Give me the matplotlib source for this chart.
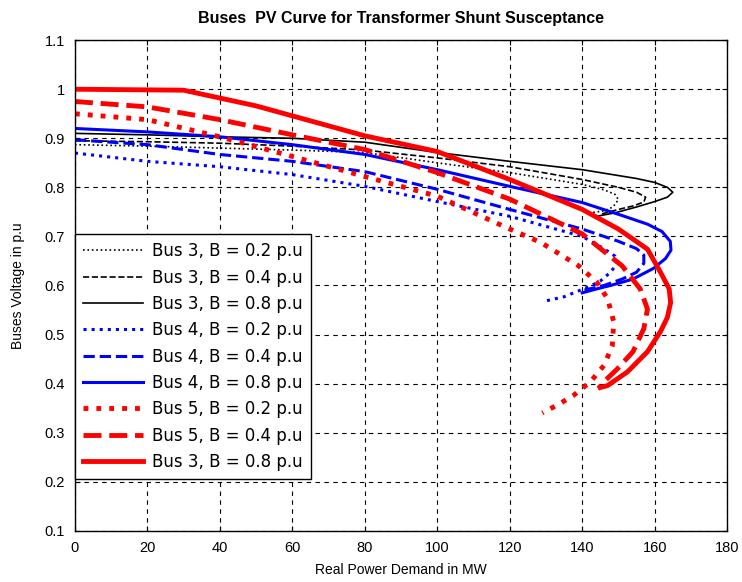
import matplotlib
matplotlib.use("Agg")
import matplotlib.pyplot as plt

plt.rcParams['font.family'] = ['Liberation Sans', 'DejaVu Sans']

# PV curves (P in MW, V in p.u)
bus3_b02_p = [0, 20, 40, 60, 80, 100, 120, 140, 146, 149, 150, 148.5, 146, 143]
bus3_b02_v = [0.887, 0.884, 0.88, 0.876, 0.871, 0.85, 0.83, 0.806, 0.795, 0.786, 0.775, 0.76, 0.752, 0.749]
bus3_b04_p = [0, 20, 40, 60, 80, 100, 120, 140, 150, 155, 157.5, 157, 154, 150, 145]
bus3_b04_v = [0.895, 0.893, 0.89, 0.884, 0.876, 0.86, 0.842, 0.816, 0.80, 0.79, 0.78, 0.77, 0.762, 0.755, 0.745]
bus3_b08_p = [0, 20, 40, 60, 80, 100, 120, 140, 155, 160, 163.5, 165, 163.5, 160, 155, 149, 144]
bus3_b08_v = [0.91, 0.907, 0.903, 0.9, 0.892, 0.871, 0.853, 0.836, 0.818, 0.81, 0.80, 0.79, 0.78, 0.771, 0.76, 0.748, 0.741]

bus4_b02_p = [0, 20, 40, 60, 80, 100, 120, 140, 146, 149, 149.7, 147.8, 145, 142, 135, 129]
bus4_b02_v = [0.87, 0.853, 0.842, 0.826, 0.802, 0.771, 0.741, 0.70, 0.675, 0.66, 0.645, 0.627, 0.609, 0.598, 0.577, 0.567]
bus4_b04_p = [0, 20, 40, 60, 80, 100, 120, 140, 150, 155, 157, 157, 155, 151, 146, 142, 139.5]
bus4_b04_v = [0.897, 0.887, 0.867, 0.853, 0.832, 0.796, 0.755, 0.715, 0.69, 0.675, 0.662, 0.645, 0.627, 0.613, 0.60, 0.593, 0.589]
bus4_b08_p = [0, 20, 40, 60, 80, 100, 120, 140, 150, 158, 162, 164.3, 164.5, 163, 159.7, 154, 147.8, 144, 140]
bus4_b08_v = [0.92, 0.913, 0.903, 0.887, 0.867, 0.836, 0.802, 0.769, 0.745, 0.725, 0.71, 0.69, 0.672, 0.655, 0.635, 0.613, 0.60, 0.593, 0.585]

bus5_b02_p = [0, 20, 40, 60, 80, 100, 120, 128.5, 139, 144, 147, 148.7, 148.3, 146, 142.3, 137.6, 134, 129]
bus5_b02_v = [0.95, 0.938, 0.903, 0.863, 0.822, 0.782, 0.715, 0.688, 0.64, 0.607, 0.573, 0.526, 0.477, 0.437, 0.404, 0.376, 0.36, 0.34]
bus5_b04_p = [0, 20, 40, 60, 80, 100, 120, 140, 151, 156, 158, 157, 154, 149.7, 146, 144.5]
bus5_b04_v = [0.975, 0.964, 0.938, 0.907, 0.877, 0.83, 0.776, 0.705, 0.64, 0.593, 0.552, 0.512, 0.465, 0.43, 0.404, 0.39]
bus5_b08_p = [0, 30, 50, 80, 100, 120, 140, 150, 158, 161.6, 164, 164.4, 163.5, 161.6, 158, 152.5, 147, 145]
bus5_b08_v = [1.0, 0.998, 0.966, 0.905, 0.873, 0.816, 0.755, 0.715, 0.674, 0.627, 0.593, 0.565, 0.535, 0.506, 0.465, 0.424, 0.396, 0.392]

labels = ["Bus 3, B = 0.2 p.u", "Bus 3, B = 0.4 p.u", "Bus 3, B = 0.8 p.u",
          "Bus 4, B = 0.2 p.u", "Bus 4, B = 0.4 p.u", "Bus 4, B = 0.8 p.u",
          "Bus 5, B = 0.2 p.u", "Bus 5, B = 0.4 p.u", "Bus 3, B = 0.8 p.u"]

fig = plt.figure(figsize=(7.42, 5.82), dpi=100)
ax = fig.add_axes([0.101, 0.088, 0.879, 0.843])

ax.plot(bus3_b02_p, bus3_b02_v, color='black', linestyle=':', lw=1.2, label=labels[0])
ax.plot(bus3_b04_p, bus3_b04_v, color='black', linestyle='--', lw=1.2, label=labels[1])
ax.plot(bus3_b08_p, bus3_b08_v, color='black', linestyle='-', lw=1.2, label=labels[2])
ax.plot(bus4_b02_p, bus4_b02_v, color='blue', linestyle=':', lw=2.2, label=labels[3])
ax.plot(bus4_b04_p, bus4_b04_v, color='blue', linestyle='--', lw=2.2, label=labels[4])
ax.plot(bus4_b08_p, bus4_b08_v, color='blue', linestyle='-', lw=2.2, label=labels[5])
ax.plot(bus5_b02_p, bus5_b02_v, color='red', linestyle=':', lw=3.5, label=labels[6])
ax.plot(bus5_b04_p, bus5_b04_v, color='red', linestyle='--', lw=3.5, label=labels[7])
ax.plot(bus5_b08_p, bus5_b08_v, color='red', linestyle='-', lw=3.5, label=labels[8])

ax.set_xlim(0, 180)
ax.set_ylim(0.1, 1.1)
ax.set_xticks(range(0, 181, 20))
ax.set_yticks([0.1, 0.2, 0.3, 0.4, 0.5, 0.6, 0.7, 0.8, 0.9, 1.0, 1.1])
ax.set_yticklabels(["0.1", "0.2", "0.3", "0.4", "0.5", "0.6", "0.7", "0.8", "0.9", "1", "1.1"])
ax.tick_params(direction='in', labelsize=10.5, top=True, right=True, pad=7)
ax.grid(True, color='black', linestyle=(0, (4, 4)), lw=0.8)
for s in ax.spines.values():
    s.set_linewidth(1.0)

ax.set_title("Buses  PV Curve for Transformer Shunt Susceptance", fontsize=11.5, fontweight='bold', pad=12)
ax.set_xlabel("Real Power Demand in MW", fontsize=10, labelpad=6)
ax.set_ylabel("Buses Voltage in p.u", fontsize=10, labelpad=14)

leg = ax.legend(loc='lower left', bbox_to_anchor=(0.0, 0.105), frameon=True,
                prop={'family': 'DejaVu Sans', 'size': 12},
                fancybox=False, edgecolor='black', framealpha=1, handlelength=3.6,
                borderaxespad=0, labelspacing=0.5, handletextpad=0.5, borderpad=0.5)
leg.get_frame().set_linewidth(1.0)

fig.savefig("out.png", dpi=100)
